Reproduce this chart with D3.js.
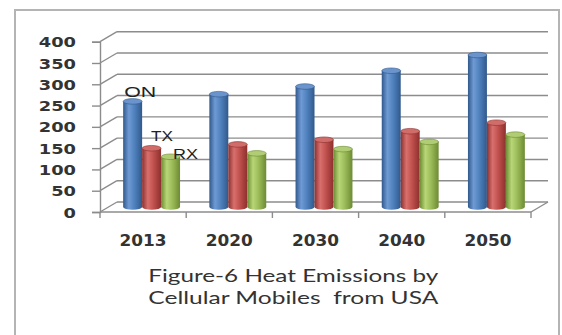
<!DOCTYPE html>
<html>
<head>
<meta charset="utf-8">
<script src="https://cdn.jsdelivr.net/npm/d3@7"></script>
<style>
  html, body { margin: 0; padding: 0; background: #fff; }
  svg { display: block; }
  .caption { white-space: pre; }
</style>
</head>
<body>
<svg id="chart" width="562" height="335"></svg>
<script>
// Heat emissions by cellular mobiles (USA), three operating modes per year
const years = ["2013", "2020", "2030", "2040", "2050"];
const seriesNames = ["ON", "TX", "RX"];
const onValues = [248, 265, 283, 320, 357];
const txValues = [138, 147, 158, 178, 198];
const rxValues = [118, 126, 136, 153, 170];
const yTicks = [0, 50, 100, 150, 200, 250, 300, 350, 400];
const titleLines = ["Figure-6 Heat Emissions by", "Cellular Mobiles  from USA"];

const seriesValues = [onValues, txValues, rxValues];
const seriesColors = [
  { base: "#4f81bd", dark: "#30598c", light: "#6f9ad4", top: "#6a94cb" },
  { base: "#c0504d", dark: "#8c302e", light: "#d8706d", top: "#d06c69" },
  { base: "#9bbb59", dark: "#6c8b33", light: "#b8d676", top: "#b0cc74" }
];

const svg = d3.select("#chart");
const defs = svg.append("defs");

// outer frame
svg.append("rect")
  .attr("x", 15).attr("y", 10).attr("width", 544).attr("height", 340)
  .attr("fill", "none").attr("stroke", "#b4b4b4").attr("stroke-width", 2);

// 3D projection: front plane + depth offset to the back wall
const x0 = 100, x1 = 531;
const depthX = 17, depthY = -10;
const y = d3.scaleLinear().domain([0, 400]).range([212, 41.7]);
const x = d3.scaleBand().domain(years).range([x0, x1]).paddingInner(0.34).paddingOuter(0.17);
const xs = d3.scaleBand().domain(seriesNames).range([0, x.bandwidth()]);

const gridColor = "#8c8c8c";
const grid = svg.append("g").attr("stroke", gridColor).attr("stroke-width", 1.4).attr("fill", "none");

// back wall gridlines and side wall diagonals
yTicks.forEach(v => {
  grid.append("line")
    .attr("x1", x0 + depthX).attr("x2", x1 + depthX)
    .attr("y1", y(v) + depthY).attr("y2", y(v) + depthY);
  grid.append("line")
    .attr("x1", x0).attr("y1", y(v))
    .attr("x2", x0 + depthX).attr("y2", y(v) + depthY);
});
// floor right edge
grid.append("line")
  .attr("x1", x1).attr("y1", y(0))
  .attr("x2", x1 + depthX).attr("y2", y(0) + depthY);

// value axis (front-left edge) with ticks
const yAxisG = svg.append("g").attr("transform", `translate(${x0},0)`)
  .call(d3.axisLeft(y).tickValues(yTicks).tickSize(8).tickPadding(16).tickFormat(d3.format("d")));
yAxisG.select(".domain").attr("stroke", gridColor).attr("stroke-width", 1.4);
yAxisG.selectAll(".tick line").attr("stroke", gridColor).attr("stroke-width", 1.4);
yAxisG.selectAll(".tick text")
  .attr("font-family", "DejaVu Sans, Verdana, sans-serif")
  .attr("font-size", 14).attr("font-weight", "bold").attr("fill", "#333")
  .attr("dy", "0.36em")
  .each(function(d) {
    const s = String(d);
    d3.select(this).attr("textLength", s.length * 12.4).attr("lengthAdjust", "spacingAndGlyphs");
  });

// category axis (front edge of the floor)
const boundaries = years.map(yr => x(yr) - x.step() * x.paddingInner() / 2);
boundaries[0] = x0;
boundaries.push(x1);
svg.append("line")
  .attr("x1", x0).attr("x2", x1).attr("y1", y(0)).attr("y2", y(0))
  .attr("stroke", gridColor).attr("stroke-width", 1.4);
svg.append("g").selectAll("line").data(boundaries).join("line")
  .attr("x1", d => d).attr("x2", d => d)
  .attr("y1", y(0)).attr("y2", y(0) + 6)
  .attr("stroke", gridColor).attr("stroke-width", 1.4);

svg.append("g").selectAll("text").data(years).join("text")
  .attr("x", d => x(d) + x.bandwidth() / 2)
  .attr("y", 246)
  .attr("text-anchor", "middle")
  .attr("font-family", "DejaVu Sans, Verdana, sans-serif")
  .attr("font-size", 15).attr("font-weight", "bold").attr("fill", "#333")
  .attr("textLength", 47).attr("lengthAdjust", "spacingAndGlyphs")
  .text(d => d);

// cylinder gradients
seriesColors.forEach((c, i) => {
  const g = defs.append("linearGradient").attr("id", "cyl" + i)
    .attr("x1", "0%").attr("x2", "100%").attr("y1", "0%").attr("y2", "0%");
  g.append("stop").attr("offset", "0%").attr("stop-color", c.dark);
  g.append("stop").attr("offset", "30%").attr("stop-color", c.light);
  g.append("stop").attr("offset", "60%").attr("stop-color", c.base);
  g.append("stop").attr("offset", "100%").attr("stop-color", c.dark);
});

// bars sit half-way into the depth of the plot
const midX = depthX / 2, midY = depthY / 2;
const ry = 2.8;
const bars = [];
years.forEach((yr, ci) => {
  seriesNames.forEach((s, si) => {
    bars.push({ year: yr, series: s, si: si, value: seriesValues[si][ci] });
  });
});

const barG = svg.append("g").selectAll("g").data(bars).join("g");
barG.each(function(d) {
  const g = d3.select(this);
  const bx = x(d.year) + xs(d.series) + midX;
  const bw = xs.bandwidth();
  const top = y(d.value) + midY;
  const base = y(0) + midY;
  const c = seriesColors[d.si];
  g.append("path")
    .attr("d", `M${bx},${top} L${bx},${base} A${bw / 2},${ry} 0 0 0 ${bx + bw},${base} L${bx + bw},${top} Z`)
    .attr("fill", `url(#cyl${d.si})`);
  g.append("ellipse")
    .attr("cx", bx + bw / 2).attr("cy", top)
    .attr("rx", bw / 2).attr("ry", ry)
    .attr("fill", c.top).attr("stroke", c.dark).attr("stroke-width", 0.6);
});

// series labels beside the first group
const labelOffsets = [{ dx: 1, dy: -4, w: 32 }, { dx: 9, dy: -7, w: 22 }, { dx: 12, dy: 2, w: 25 }];
svg.append("g").selectAll("text").data(seriesNames).join("text")
  .attr("x", (s, i) => x(years[0]) + xs(s) + midX + labelOffsets[i].dx)
  .attr("y", (s, i) => y(seriesValues[i][0]) + midY + labelOffsets[i].dy)
  .attr("font-family", "Liberation Sans, Arial, sans-serif")
  .attr("font-size", 14).attr("fill", "#222")
  .attr("textLength", (s, i) => labelOffsets[i].w).attr("lengthAdjust", "spacingAndGlyphs")
  .text(s => s);

// caption below the category axis
svg.append("g").selectAll("text").data(titleLines).join("text")
  .attr("class", "caption")
  .attr("x", 293.3)
  .attr("y", (d, i) => 282 + i * 21.5)
  .attr("text-anchor", "middle")
  .attr("font-family", "Lato, Open Sans, sans-serif")
  .attr("font-size", 17).attr("fill", "#333")
  .attr("textLength", 290).attr("lengthAdjust", "spacingAndGlyphs")
  .text(d => d);
</script>
</body>
</html>
